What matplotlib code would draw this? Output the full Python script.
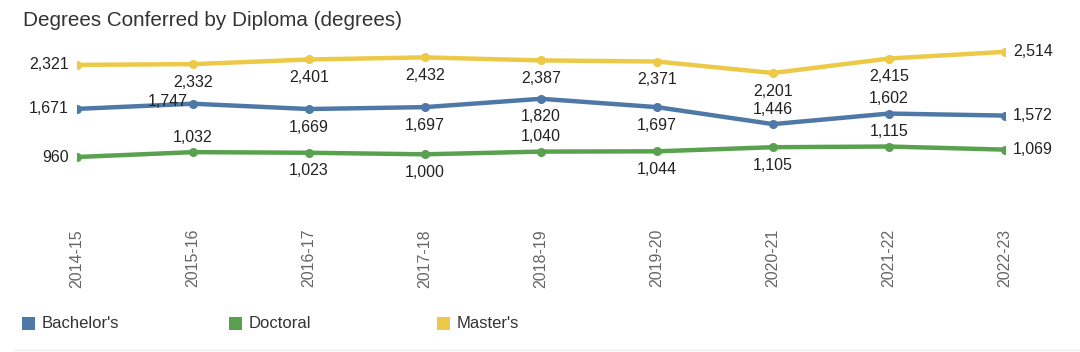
import matplotlib
matplotlib.use("Agg")
import matplotlib.pyplot as plt
from matplotlib.patches import Rectangle
from matplotlib.lines import Line2D

plt.rcParams['font.family'] = ['Liberation Sans', 'DejaVu Sans']

years = ["2014-15", "2015-16", "2016-17", "2017-18", "2018-19",
         "2019-20", "2020-21", "2021-22", "2022-23"]
bachelors = [1671, 1747, 1669, 1697, 1820, 1697, 1446, 1602, 1572]
doctoral = [960, 1032, 1023, 1000, 1040, 1044, 1105, 1115, 1069]
masters = [2321, 2332, 2401, 2432, 2387, 2371, 2201, 2415, 2514]

# label placement per point: 'l' left, 'r' right, 'a' above, 'b' below, 'la' left-above
bach_pos = ['l', 'la', 'b', 'b', 'b', 'b', 'a', 'a', 'r']
doc_pos = ['l', 'a', 'b', 'b', 'a', 'b', 'b', 'a', 'r']
mast_pos = ['l', 'b', 'b', 'b', 'b', 'b', 'b', 'b', 'r']

series = [
    ("Bachelor's", bachelors, bach_pos, "#4e79a7"),
    ("Doctoral", doctoral, doc_pos, "#59a14f"),
    ("Master's", masters, mast_pos, "#edc948"),
]

W, H = 1080, 352
fig = plt.figure(figsize=(W / 100, H / 100), dpi=100)
ax = fig.add_axes([77 / W, 1 - 222 / H, (1005 - 77) / W, (222 - 46) / H])

x = list(range(len(years)))
for name, vals, pos, color in series:
    ax.plot(x, vals, color=color, lw=3.2, marker='o', markersize=5.5,
            solid_capstyle='round', zorder=3)

for name, vals, pos, color in series:
    for xi, v, p in zip(x, vals, pos):
        lab = f"{v:,}"
        if p == 'l':
            off, ha, va = (-8, 0), 'right', 'center'
        elif p == 'r':
            off, ha, va = (8, 0), 'left', 'center'
        elif p == 'a':
            off, ha, va = (0, 15), 'center', 'center'
        elif p == 'b':
            off, ha, va = (0, -18), 'center', 'center'
        else:  # left-above
            off, ha, va = (-5, 2), 'right', 'center'
        ax.annotate(lab, (xi, v), xytext=off, textcoords='offset pixels',
                    ha=ha, va=va, fontsize=11.5, color='#222222', zorder=4)

ax.set_xlim(0, len(years) - 1)
ax.set_ylim(0, 2600)
ax.set_yticks([])
ax.set_xticks(x)
ax.set_xticklabels(years, rotation=90, color='#666666', fontsize=11.5)
ax.tick_params(axis='x', length=0, pad=5)
for s in ax.spines.values():
    s.set_visible(False)

fig.text(23 / W, 1 - 20 / H, "Degrees Conferred by Diploma (degrees)",
         fontsize=14.9, color='#333333', ha='left', va='center')

# legend
leg_x = [22, 229, 437]
for (name, vals, pos, color), lx in zip(series, leg_x):
    fig.patches.append(Rectangle((lx / W, 1 - 330 / H), 13 / W, 13 / H,
                                 transform=fig.transFigure, facecolor=color,
                                 edgecolor='none'))
    fig.text((lx + 20) / W, 1 - 324 / H, name, fontsize=12, color='#333333',
             ha='left', va='center')

fig.lines.append(Line2D([15 / W, 1.0], [1 - 350 / H, 1 - 350 / H],
                        transform=fig.transFigure, color='#eeeeee', lw=1))

fig.savefig("out.png", dpi=100)
